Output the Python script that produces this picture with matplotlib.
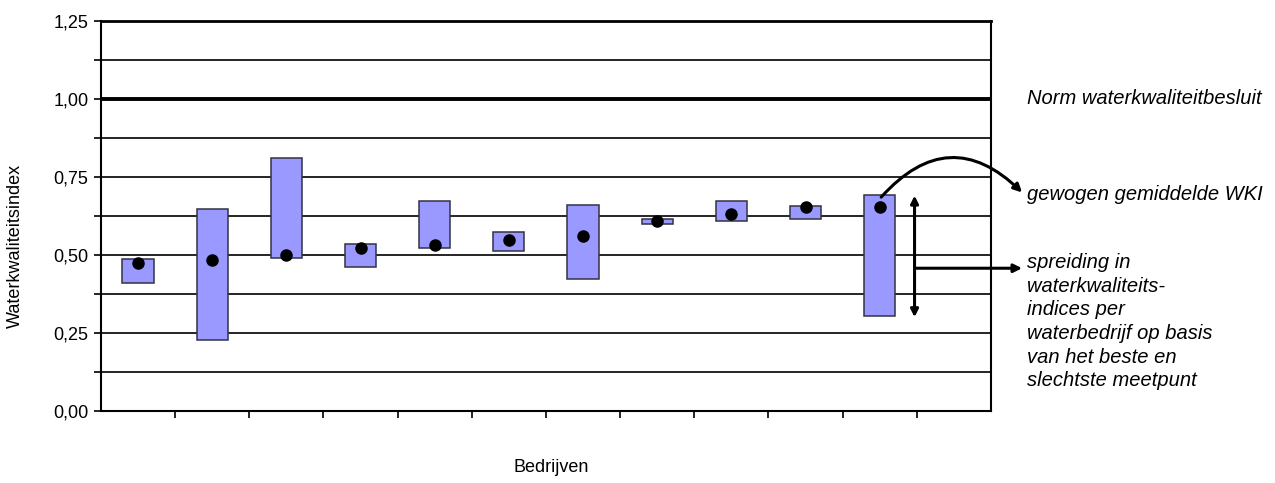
import matplotlib
matplotlib.use('Agg')
import matplotlib.pyplot as plt
import numpy as np

# data
bedrijven = list(range(11))
wki_min = [0.41, 0.228, 0.491, 0.46, 0.522, 0.511, 0.421, 0.598, 0.609, 0.615, 0.303]
wki_max = [0.487, 0.647, 0.809, 0.536, 0.673, 0.574, 0.661, 0.614, 0.673, 0.656, 0.693]
wki_gem = [0.473, 0.484, 0.50, 0.522, 0.531, 0.546, 0.559, 0.607, 0.631, 0.652, 0.653]
ytick_labels = ['0,00', '0,25', '0,50', '0,75', '1,00', '1,25']

plt.rcParams['font.family'] = ['Liberation Sans', 'DejaVu Sans']

fig = plt.figure(figsize=(12.75, 4.83), dpi=100)
ax = fig.add_axes([0.0792, 0.1497, 0.6980, 0.8068])

x = np.array(bedrijven)
hoogte = np.array(wki_max) - np.array(wki_min)
ax.bar(x, hoogte, bottom=wki_min, width=0.42, color='#9999ff',
       edgecolor='#333344', linewidth=1.1, zorder=3)
ax.plot(x, wki_gem, 'o', color='black', markersize=8, zorder=4)

# gridlines every 0.125, norm line thicker
for yy in np.arange(0.125, 1.25, 0.125):
    if abs(yy - 1.0) < 1e-6:
        ax.axhline(yy, color='black', linewidth=2.8, zorder=2)
    else:
        ax.axhline(yy, color='black', linewidth=1.2, zorder=2)

ax.set_xlim(-0.5, 11.5)
ax.set_ylim(0, 1.25)
ax.set_yticks(np.arange(0, 1.26, 0.25))
ax.set_yticklabels(ytick_labels, fontsize=13)
ax.set_yticks(np.arange(0.125, 1.25, 0.25), minor=True)
ax.set_xticks(np.arange(0.5, 11, 1.0))
ax.set_xticklabels([])
ax.tick_params(axis='both', which='both', direction='out', length=5, width=1.2, color='black')
ax.tick_params(axis='y', pad=4)
for s in ax.spines.values():
    s.set_linewidth(1.5)
ax.spines['top'].set_linewidth(2.0)

fig.text(0.012, 0.49, 'Waterkwaliteitsindex', rotation=90, fontsize=13,
         ha='center', va='center')
fig.text(0.432, 0.033, 'Bedrijven', fontsize=13, ha='center', va='center')

# annotations on the right
tekst_x = 1027 / 1275
fig.text(tekst_x, 1 - 98 / 483, 'Norm waterkwaliteitbesluit', style='italic',
         fontsize=14.5, ha='left', va='center')
fig.text(tekst_x, 1 - 194 / 483, 'gewogen gemiddelde WKI', style='italic',
         fontsize=14.5, ha='left', va='center')
fig.text(tekst_x, 1 - 253 / 483,
         'spreiding in\nwaterkwaliteits-\nindices per\nwaterbedrijf op basis\nvan het beste en\nslechtste meetpunt',
         style='italic', fontsize=14.5, ha='left', va='top', linespacing=1.31)

# double arrow showing spread
ax.annotate('', xy=(10.47, 0.30), xytext=(10.47, 0.69),
            arrowprops=dict(arrowstyle='<|-|>', color='black', lw=2.2,
                            mutation_scale=11, shrinkA=0, shrinkB=0),
            annotation_clip=False, zorder=5)
ax.annotate('', xy=(11.92, 0.457), xytext=(10.47, 0.457),
            arrowprops=dict(arrowstyle='-|>', color='black', lw=2.2,
                            mutation_scale=12, shrinkA=0, shrinkB=0),
            annotation_clip=False, zorder=5)
# curved arrow from the dot
ax.annotate('', xy=(11.92, 0.70), xytext=(10.02, 0.685),
            arrowprops=dict(arrowstyle='-|>', color='black', lw=2.2,
                            mutation_scale=12, shrinkA=0, shrinkB=0,
                            connectionstyle='arc3,rad=-0.52'),
            annotation_clip=False, zorder=5)

fig.savefig('out.png', dpi=100)
